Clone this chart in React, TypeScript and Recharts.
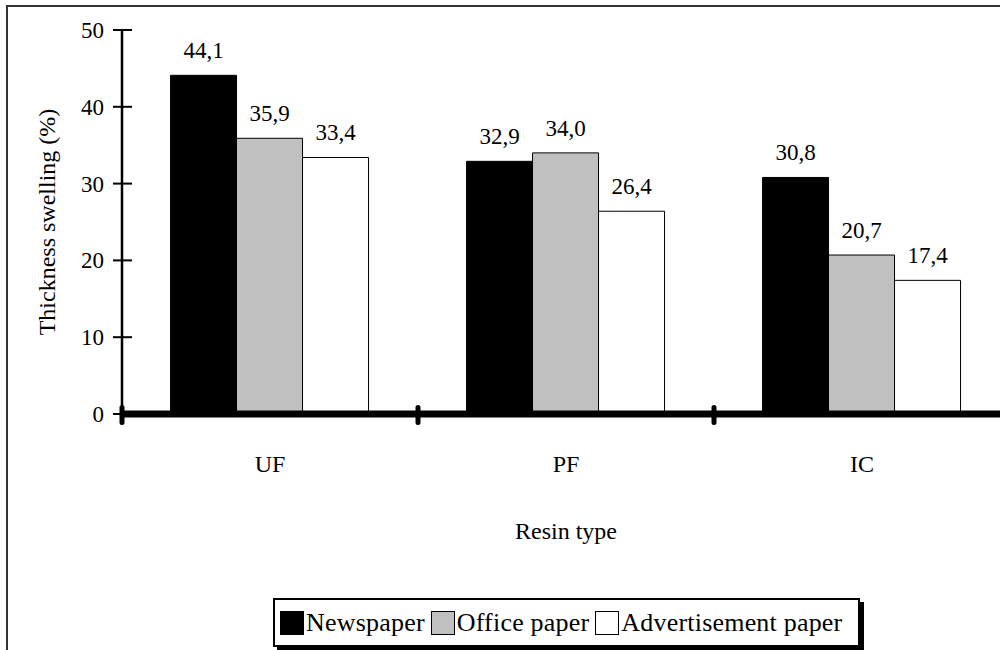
import React from 'react';
import { BarChart, Bar, XAxis, YAxis, LabelList, Label } from 'recharts';

const categories = ['UF', 'PF', 'IC'];
const newspaper = [44.1, 32.9, 30.8];
const officePaper = [35.9, 34.0, 20.7];
const advertisementPaper = [33.4, 26.4, 17.4];
const yTicks = [0, 10, 20, 30, 40, 50];

const seriesKeys = ['newspaper', 'office', 'advert'];
const seriesNames = ['Newspaper', 'Office paper', 'Advertisement paper'];
const seriesFills = ['#000000', '#c0c0c0', '#ffffff'];

const data = categories.map((c, i) => ({
  resin: c,
  newspaper: newspaper[i],
  office: officePaper[i],
  advert: advertisementPaper[i],
}));

const FONT = '"Liberation Serif", "Times New Roman", serif';

const CHART_W = 1020;
const CHART_H = 650;
const MARGIN = { top: 30, right: 10, left: 30, bottom: 0 };
const Y_AXIS_W = 92;
const X_AXIS_H = 236;
const PLOT_W = CHART_W - MARGIN.left - MARGIN.right - Y_AXIS_W;
const HALF_BAND = PLOT_W / categories.length / 2;

const fmt = (v: any) => Number(v).toFixed(1).replace('.', ',');

const XTick = (props: any) => {
  const { x, y, payload } = props;
  const half = payload && payload.offset ? payload.offset : HALF_BAND;
  return (
    <g>
      <rect x={x - half - 2.5} y={y - 9} width={5} height={20} rx={2.5} fill="#000" />
      <text x={x} y={y + 58} textAnchor="middle" fontSize={24} fontFamily={FONT} fill="#000">
        {payload.value}
      </text>
    </g>
  );
};

const YTick = (props: any) => {
  const { x, y, payload } = props;
  return (
    <g>
      <line x1={x - 9} x2={x + 10} y1={y} y2={y} stroke="#000" strokeWidth={2} />
      <text x={x - 18} y={y} dy="0.35em" textAnchor="end" fontSize={23} fontFamily={FONT} fill="#000">
        {payload.value}
      </text>
    </g>
  );
};

export default function App() {
  return (
    <div
      style={{
        position: 'fixed',
        left: 0,
        top: 0,
        width: 1000,
        height: 650,
        overflow: 'hidden',
        background: '#fff',
        fontFamily: FONT,
      }}
    >
      <div
        style={{
          position: 'absolute',
          left: 6,
          top: 5,
          width: 3000,
          height: 3000,
          borderTop: '2px solid #333',
          borderLeft: '2px solid #333',
        }}
      />
      <div style={{ position: 'absolute', left: 0, top: 0 }}>
        <BarChart
          width={CHART_W}
          height={CHART_H}
          data={data}
          margin={MARGIN}
          barCategoryGap="16.4%"
          barGap={0}
        >
          <XAxis
            dataKey="resin"
            height={X_AXIS_H}
            interval={0}
            tickSize={0}
            tickMargin={0}
            tickLine={false}
            axisLine={{ stroke: '#000', strokeWidth: 7 }}
            tick={<XTick />}
          >
            <Label
              content={(p: any) => {
                const vb = p.viewBox || {};
                return (
                  <text
                    x={vb.x + vb.width / 2}
                    y={vb.y + 125}
                    textAnchor="middle"
                    fontSize={24}
                    fontFamily={FONT}
                    fill="#000"
                  >
                    Resin type
                  </text>
                );
              }}
            />
          </XAxis>
          <YAxis
            width={Y_AXIS_W}
            domain={[0, 50]}
            ticks={yTicks}
            interval={0}
            tickSize={0}
            tickMargin={0}
            tickLine={false}
            axisLine={{ stroke: '#000', strokeWidth: 2.5 }}
            tick={<YTick />}
          >
            <Label
              content={(p: any) => {
                const vb = p.viewBox || {};
                const cx = 47;
                const cy = vb.y + vb.height / 2;
                return (
                  <text
                    x={cx}
                    y={cy}
                    transform={`rotate(-90, ${cx}, ${cy})`}
                    textAnchor="middle"
                    dominantBaseline="central"
                    fontSize={24}
                    fontFamily={FONT}
                    fill="#000"
                  >
                    Thickness swelling (%)
                  </text>
                );
              }}
            />
          </YAxis>
          {seriesKeys.map((k, i) => (
            <Bar
              key={k}
              dataKey={k}
              name={seriesNames[i]}
              fill={seriesFills[i]}
              stroke="#000"
              strokeWidth={1}
              isAnimationActive={false}
            >
              <LabelList
                dataKey={k}
                position="top"
                offset={17}
                formatter={fmt}
                fontSize={23}
                fontFamily={FONT}
                fill="#000"
              />
            </Bar>
          ))}
        </BarChart>
      </div>
      <div
        style={{
          position: 'absolute',
          left: 273,
          top: 598,
          width: 587,
          height: 49,
          boxSizing: 'border-box',
          border: '2px solid #000',
          boxShadow: '4px 4px 0 #000',
          background: '#fff',
          display: 'flex',
          alignItems: 'center',
          paddingLeft: 5,
          fontSize: 26,
          letterSpacing: 0.2,
          fontFamily: FONT,
          color: '#000',
          whiteSpace: 'nowrap',
        }}
      >
        {seriesNames.map((n, i) => (
          <div key={n} style={{ display: 'flex', alignItems: 'center', marginRight: 6 }}>
            <span
              style={{
                display: 'inline-block',
                width: 24,
                height: 24,
                boxSizing: 'border-box',
                background: seriesFills[i],
                border: '1.5px solid #000',
                marginRight: 2,
              }}
            />
            <span>{n}</span>
          </div>
        ))}
      </div>
    </div>
  );
}
